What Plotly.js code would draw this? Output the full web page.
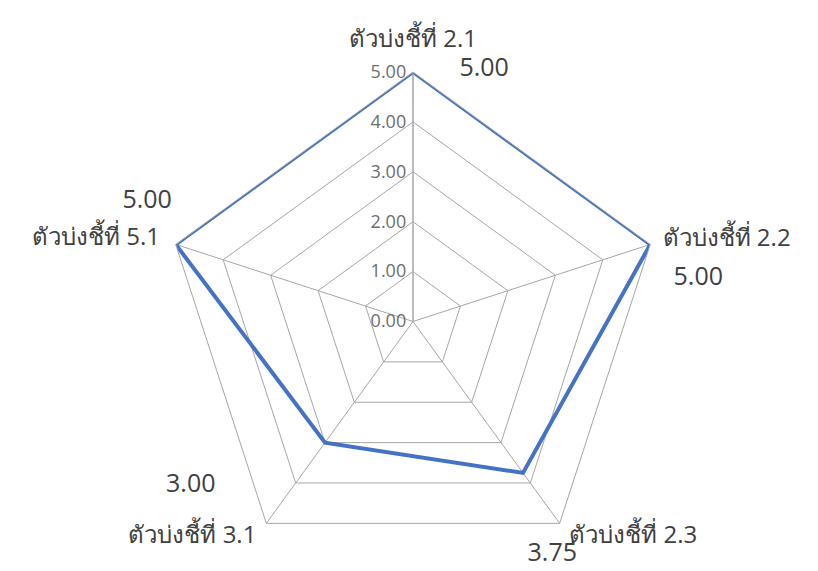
<!DOCTYPE html>
<html>
<head>
<meta charset="utf-8">
<script src="https://cdn.plot.ly/plotly-3.0.1.min.js"></script>
<style>html,body{margin:0;padding:0;background:#fff;}#chart{width:818px;height:571px;}</style>
</head>
<body>
<div id="chart"></div>
<script>
const categories = ["ตัวบ่งชี้ที่ 2.1", "ตัวบ่งชี้ที่ 2.2", "ตัวบ่งชี้ที่ 2.3", "ตัวบ่งชี้ที่ 3.1", "ตัวบ่งชี้ที่ 5.1"];
const values = [5.00, 5.00, 3.75, 3.00, 5.00];
const radialTicks = [0, 1, 2, 3, 4, 5];

// label placement (style only)
const valueLabelAngleOffset = [15.8, 9.5, 5.2, 17.5, 6.2];
const valueLabelRadius = [5.24, 5.78, 5.45, 5.54, 5.84];
const catLabelRadius = [5.62, 5.26, 5.33, 5.34, 5.33];
const catLabelPosition = ['middle center', 'middle right', 'middle right', 'middle left', 'middle left'];

const W = 818, H = 571;
const CX = 413, TOPY = 72, RPX = 249.5, RMAX = 5;
const CY = TOPY + RPX;
const pxPerUnit = RPX / RMAX;

const FONT = '"Open Sans", "Noto Sans", sans-serif';
const step = 360 / categories.length;
const rad = d => d * Math.PI / 180;

const lineTrace = {
  type: 'scatterpolar',
  r: values.concat([values[0]]),
  theta: categories.concat([categories[0]]),
  mode: 'lines',
  line: {color: '#4472C4', width: 4},
  hoverinfo: 'skip',
  subplot: 'polar'
};

const valAng = values.map((v, i) => rad(i * step + valueLabelAngleOffset[i]));
const valueLabelTrace = {
  type: 'scatter',
  x: valAng.map((a, i) => valueLabelRadius[i] * Math.sin(a)),
  y: valAng.map((a, i) => valueLabelRadius[i] * Math.cos(a)),
  mode: 'text',
  text: values.map(v => v.toFixed(2)),
  textposition: 'middle center',
  textfont: {family: FONT, size: 25, color: '#404040'},
  cliponaxis: false,
  hoverinfo: 'skip'
};

const catAng = categories.map((c, i) => rad(i * step));
const catLabelTrace = {
  type: 'scatter',
  x: catAng.map((a, i) => catLabelRadius[i] * Math.sin(a)),
  y: catAng.map((a, i) => catLabelRadius[i] * Math.cos(a)),
  mode: 'text',
  text: categories,
  textposition: catLabelPosition,
  textfont: {family: FONT, size: 24, color: '#404040'},
  cliponaxis: false,
  hoverinfo: 'skip'
};

const layout = {
  width: W, height: H,
  margin: {l: 0, r: 0, t: 0, b: 0},
  paper_bgcolor: '#fff',
  plot_bgcolor: 'rgba(0,0,0,0)',
  showlegend: false,
  font: {family: FONT},
  xaxis: {domain: [0, 1], range: [-CX / pxPerUnit, (W - CX) / pxPerUnit], visible: false, fixedrange: true},
  yaxis: {domain: [0, 1], range: [-(H - CY) / pxPerUnit, CY / pxPerUnit], visible: false, fixedrange: true},
  polar: {
    domain: {x: [(CX - RPX) / W, (CX + RPX) / W], y: [(H - CY - RPX) / H, (H - TOPY) / H]},
    bgcolor: 'rgba(0,0,0,0)',
    gridshape: 'linear',
    angularaxis: {
      type: 'category',
      categoryarray: categories,
      rotation: 90,
      direction: 'clockwise',
      showline: true,
      linecolor: '#A6A6A6',
      linewidth: 1,
      gridcolor: '#A6A6A6',
      ticks: '',
      showticklabels: false
    },
    radialaxis: {
      range: [0, RMAX],
      angle: 90,
      tickangle: 90,
      side: 'counterclockwise',
      tickvals: radialTicks,
      tickformat: '.2f',
      ticks: '',
      showline: true,
      linecolor: '#A6A6A6',
      gridcolor: '#A6A6A6',
      tickfont: {family: FONT, size: 18, color: '#6E6E6E'}
    }
  }
};

Plotly.newPlot('chart', [valueLabelTrace, catLabelTrace, lineTrace], layout, {displayModeBar: false, staticPlot: true});
</script>
</body>
</html>
